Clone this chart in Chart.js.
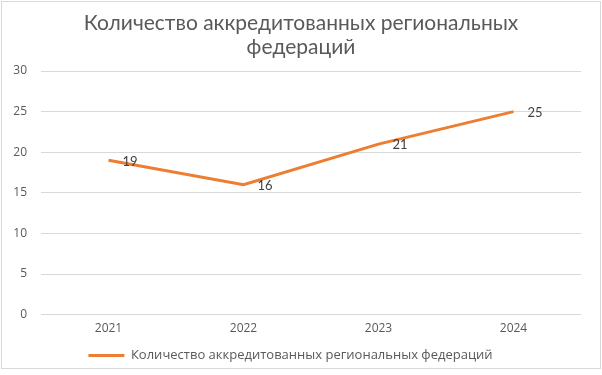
<!DOCTYPE html>
<html>
<head>
<meta charset="utf-8">
<script src="https://cdn.jsdelivr.net/npm/chart.js@4"></script>
<style>
  html, body { margin: 0; padding: 0; background: #fff; }
  #wrap { width: 602px; height: 375px; position: relative; }
</style>
</head>
<body>
<div id="wrap"><canvas id="chart" width="602" height="375"></canvas></div>
<script>
const years = ['2021', '2022', '2023', '2024'];
const federations = [19, 16, 21, 25];
const seriesName = 'Количество аккредитованных региональных федераций';
const titleLines = ['Количество аккредитованных региональных', 'федераций'];

const FONT = 'Lato, "Open Sans", sans-serif';
const SMALL = '"Open Sans", Lato, sans-serif';

// white background + thin frame like the exported picture
const frame = {
  id: 'frame',
  beforeDraw(chart) {
    const c = chart.ctx;
    c.save();
    c.fillStyle = '#fff';
    c.fillRect(0, 0, chart.width, chart.height);
    c.strokeStyle = '#d9d9d9';
    c.lineWidth = 1;
    c.strokeRect(1.5, 1.5, chart.width - 3, chart.height - 8);
    c.restore();
  }
};

// two-line title, drawn by hand so the plot top can be placed freely
const sideTitle = {
  id: 'sideTitle',
  afterDraw(chart) {
    const c = chart.ctx;
    c.save();
    c.font = '21px ' + FONT;
    c.fillStyle = '#595959';
    c.textAlign = 'center';
    c.textBaseline = 'middle';
    titleLines.forEach((t, i) => c.fillText(t, 301, 23 + i * 24));
    c.restore();
  }
};

// value next to each point
const valueLabels = {
  id: 'valueLabels',
  afterDatasetsDraw(chart) {
    const c = chart.ctx;
    const meta = chart.getDatasetMeta(0);
    const data = chart.data.datasets[0].data;
    c.save();
    c.font = '13px ' + FONT;
    c.fillStyle = '#404040';
    c.textAlign = 'left';
    c.textBaseline = 'middle';
    meta.data.forEach((pt, i) => {
      c.fillText(String(data[i]), pt.x + 14, pt.y + 1);
    });
    c.restore();
  }
};

new Chart(document.getElementById('chart'), {
  type: 'line',
  data: {
    labels: years,
    datasets: [{
      label: seriesName,
      data: federations,
      borderColor: '#ed7d31',
      backgroundColor: '#ed7d31',
      borderWidth: 3,
      pointRadius: 0,
      tension: 0
    }]
  },
  options: {
    responsive: false,
    animation: false,
    layout: { padding: { left: 0, right: 21, top: 71, bottom: 3 } },
    plugins: {
      tooltip: { enabled: false },
      title: { display: false },
      legend: {
        position: 'bottom',
        labels: {
          color: '#595959',
          font: { family: SMALL, size: 13 },
          usePointStyle: true,
          pointStyle: 'line',
          pointStyleWidth: 36,
          padding: 13
        }
      }
    },
    scales: {
      x: {
        offset: true,
        grid: { display: false, tickLength: 7 },
        border: { display: false },
        ticks: { color: '#595959', font: { family: SMALL, size: 12 }, padding: 0 }
      },
      y: {
        min: 0,
        max: 30,
        afterFit(scale) { scale.width = 41; },
        grid: { color: '#d9d9d9', lineWidth: 1, drawTicks: false },
        border: { display: false },
        ticks: { stepSize: 5, color: '#595959', font: { family: SMALL, size: 12 }, padding: 14 }
      }
    }
  },
  plugins: [frame, sideTitle, valueLabels]
});
</script>
</body>
</html>
